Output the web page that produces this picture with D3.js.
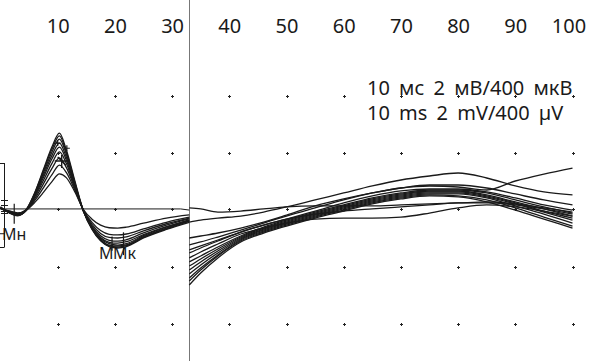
<!DOCTYPE html>
<html><head><meta charset="utf-8">
<script src="https://cdn.jsdelivr.net/npm/d3@7"></script>
<style>html,body{margin:0;padding:0;background:#fff;overflow:hidden}</style>
</head><body>
<svg id="c" width="591" height="361"></svg>
<script>
// ---- data ----
const tickLabels = [10,20,30,40,50,60,70,80,90,100];
const gridRowsMV = [4, 2, 0.0001, -2, -4, -6]; // dotted grid rows (in mV units of left scale, 2 mV / div)
const splitTime = 33; // ms: boundary between 2 mV and 400 µV sweeps
const legendLines = ["10 мс 2 мВ/400 мкВ", "10 ms 2 mV/400 µV"];

// left sweep (mV), sampled at these times (ms)
const timesL = [0, 1.5, 3, 4.5, 6, 7.5, 9, 10.3, 11.5, 13, 14.5, 16, 17.5, 19, 20.5, 22, 25, 29, 33];
const leftA1 = [0.05,-0.1,-0.2,0.0,0.6,1.4,2.2,2.68,2.1,1.0,-0.05,-0.7,-1.1,-1.3,-1.35,-1.3,-1.0,-0.7,-0.45];
const leftA2 = [0.05,-0.1,-0.18,0.0,0.58,1.35,2.12,2.58,2.02,0.95,-0.05,-0.68,-1.08,-1.28,-1.32,-1.27,-0.98,-0.68,-0.42];
const leftA3 = [0.04,-0.08,-0.18,-0.02,0.55,1.28,2.02,2.47,1.95,0.92,-0.06,-0.66,-1.05,-1.25,-1.28,-1.24,-0.95,-0.65,-0.4];
const leftA4 = [0.06,-0.1,-0.2,-0.02,0.52,1.2,1.9,2.33,1.84,0.86,-0.05,-0.64,-1.02,-1.2,-1.25,-1.2,-0.92,-0.62,-0.38];
const leftA5 = [0.08,-0.12,-0.22,-0.03,0.48,1.12,1.78,2.19,1.74,0.82,-0.06,-0.62,-0.98,-1.15,-1.18,-1.13,-0.88,-0.6,-0.36];
const leftA6 = [0.1,-0.1,-0.2,-0.04,0.44,1.02,1.62,2.02,1.62,0.78,-0.04,-0.58,-0.92,-1.08,-1.11,-1.06,-0.82,-0.55,-0.33];
const leftA7 = [0.06,-0.08,-0.16,-0.03,0.38,0.9,1.44,1.81,1.48,0.74,-0.03,-0.52,-0.84,-0.98,-1.0,-0.96,-0.75,-0.5,-0.3];
const leftA8 = [0.04,-0.06,-0.14,-0.02,0.32,0.76,1.22,1.56,1.3,0.68,-0.02,-0.45,-0.74,-0.87,-0.89,-0.86,-0.68,-0.45,-0.27];
const leftA9 = [0.02,-0.05,-0.12,-0.02,0.25,0.6,0.98,1.25,1.12,0.62,0.0,-0.34,-0.55,-0.64,-0.65,-0.62,-0.48,-0.3,-0.19];
const isoTimes = [0.8, 31.5, 33];
const isoValues = [0.02, 0.02, -0.02];

// right sweep (µV)
const timesR = [33, 35, 38, 42, 46, 50, 55, 60, 65, 70, 75, 80, 85, 90, 95, 100];
const rightR1  = [11,4,-18,-11,4,18,25,25,25,32,39,46,53,39,11,-18];
const rightR2  = [-88,-74,-60,-46,-18,18,67,116,165,207,235,256,221,165,123,102];
const rightB1  = [-200,-186,-165,-130,-88,-39,25,74,116,151,165,158,137,200,249,291];
const rightB2  = [-249,-228,-193,-144,-95,-46,11,67,116,151,172,172,151,109,67,32];
const rightB3  = [-305,-270,-221,-158,-109,-67,-11,46,95,130,144,144,123,81,32,-4];
const rightB4  = [-368,-326,-263,-186,-123,-74,-18,32,81,116,137,137,116,67,18,-25];
const rightB5  = [-397,-347,-277,-193,-130,-81,-25,25,74,109,130,130,102,53,4,-46];
const rightB6  = [-425,-368,-291,-200,-137,-88,-32,18,67,102,123,123,95,46,-11,-60];
const rightB7  = [-453,-390,-305,-207,-144,-95,-39,11,60,95,116,116,88,39,-18,-74];
const rightB8  = [-481,-411,-319,-214,-151,-102,-46,4,53,88,109,109,81,25,-32,-95];
const rightB9  = [-502,-425,-326,-221,-158,-109,-53,-4,46,81,102,95,67,11,-53,-116];
const rightB10 = [-530,-446,-340,-228,-165,-116,-60,-11,39,74,95,88,53,-4,-67,-130];
const rightL1  = [-284,-256,-214,-158,-109,-67,-32,-11,4,18,32,46,46,32,4,-32];
const rightL2  = [-340,-298,-242,-172,-130,-95,-67,-60,-60,-53,-25,11,32,18,-11,-46];

// markers (time ms, value mV)
const markerMn = {t: 2.4, v: 0, label: "Мн"};
const markerMk = [{t: 19.5, v: -1.05}, {t: 21.5, v: -1.1}];
const peakCross = {t: 10.7, v: 1.7};
const peakTicks = [{t: 10.0, v: 2.33}, {t: 11.6, v: 2.15}];

// ---- drawing ----
const svg = d3.select("#c");
const x = d3.scaleLinear().domain([0, 100]).range([0.5, 572.5]);
const yL = d3.scaleLinear().domain([0, 2]).range([209.5, 152.5]);   // 2 mV / div
const yR = d3.scaleLinear().domain([0, 400]).range([209.5, 152.5]); // 400 µV / div
const font = "'Noto Sans', 'Open Sans', sans-serif";
const ink = "#1a1a1a";

// top axis labels
const topAxis = d3.axisTop(x).tickValues(tickLabels).tickSize(0).tickFormat(d3.format("d"));
const ag = svg.append("g").attr("transform", "translate(0,36)").call(topAxis);
ag.select(".domain").remove();
ag.selectAll("text").attr("font-family", font).attr("font-size", 20).attr("fill", ink)
  .attr("dy", 0).attr("dx", d => d === 100 ? -4 : 0);

// dotted grid
const dots = [];
tickLabels.forEach(t => gridRowsMV.forEach(v => dots.push({t, v})));
svg.append("g").selectAll("path").data(dots).join("path")
  .attr("d", d => {
    const cx = Math.round(x(d.t)) + 0.5, cy = Math.round(yL(d.v)) + 0.5;
    return `M${cx-1.5},${cy}H${cx+1.5}M${cx},${cy-1.5}V${cy+1.5}`;
  })
  .attr("stroke", "#222").attr("stroke-width", 1);

// split line
svg.append("line").attr("x1", Math.round(x(splitTime)) + 0.5).attr("x2", Math.round(x(splitTime)) + 0.5)
  .attr("y1", 0).attr("y2", 361).attr("stroke", "#777").attr("stroke-width", 1);

// legend text
svg.append("g").selectAll("text").data(legendLines).join("text")
  .attr("x", 367).attr("y", (d, i) => 95 + i * 25)
  .attr("font-family", font).attr("font-size", 20).attr("fill", ink)
  .attr("word-spacing", 4)
  .text(d => d);

// left traces
const lineL = d3.line().x((d, i) => x(timesL[i])).y(d => yL(d)).curve(d3.curveMonotoneX);
const leftSeries = [leftA1, leftA2, leftA3, leftA4, leftA5, leftA6, leftA7, leftA8, leftA9];
svg.append("g").selectAll("path").data(leftSeries).join("path")
  .attr("d", lineL).attr("fill", "none").attr("stroke", ink).attr("stroke-width", 1.3);

// isoline
svg.append("path").datum(isoValues)
  .attr("d", d3.line().x((d, i) => x(isoTimes[i])).y(d => yL(d)))
  .attr("fill", "none").attr("stroke", ink).attr("stroke-width", 1);

// right traces
const lineR = d3.line().x((d, i) => x(timesR[i])).y(d => yR(d)).curve(d3.curveMonotoneX);
const rightSeries = [rightR1, rightR2, rightB1, rightB2, rightB3, rightB4, rightB5, rightB6, rightB7, rightB8, rightB9, rightB10, rightL1, rightL2];
svg.append("g").selectAll("path").data(rightSeries).join("path")
  .attr("d", lineR).attr("fill", "none").attr("stroke", ink).attr("stroke-width", 1.3);

// left calibration bar
const bx = 4.5;
const cal = svg.append("g").attr("stroke", ink).attr("stroke-width", 1).attr("fill", "none");
cal.append("line").attr("x1", bx).attr("x2", bx).attr("y1", yL(1.63)).attr("y2", yL(-1.32));
[1.63, -1.32].forEach(v => cal.append("line").attr("x1", 0).attr("x2", bx).attr("y1", Math.round(yL(v)) + 0.5).attr("y2", Math.round(yL(v)) + 0.5));
[0.33, 0.15, -0.05, -0.13].forEach(v => cal.append("line").attr("x1", 1).attr("x2", 8).attr("y1", Math.round(yL(v)) + 0.5).attr("y2", Math.round(yL(v)) + 0.5));
cal.append("line").attr("x1", 0).attr("x2", bx).attr("y1", yL(-0.85)).attr("y2", yL(-0.85));

// markers
const mk = svg.append("g").attr("stroke", ink).attr("stroke-width", 1.2).attr("fill", "none");
mk.append("line").attr("x1", x(markerMn.t)).attr("x2", x(markerMn.t)).attr("y1", yL(0.2)).attr("y2", yL(-0.5));
markerMk.forEach((m, i) => mk.append("line").attr("x1", x(m.t)).attr("x2", x(m.t))
  .attr("y1", yL(m.v + (i ? 0.3 : 0.1))).attr("y2", yL(m.v - (i ? 0.5 : 0.4))));
const pcx = x(peakCross.t), pcy = yL(peakCross.v);
mk.append("path").attr("d", `M${pcx-7},${pcy}H${pcx+7}M${pcx},${pcy-6}V${pcy+7}M${pcx-4},${pcy-4}L${pcx+4},${pcy+4}`).attr("stroke-width", 1.4);
peakTicks.forEach(p => mk.append("path").attr("d", `M${x(p.t)-3},${yL(p.v)}H${x(p.t)+3}M${x(p.t)},${yL(p.v)-3}V${yL(p.v)+3}`));

// labels
svg.append("text").attr("x", 2).attr("y", 240).attr("font-family", font).attr("font-size", 16).attr("fill", ink).text(markerMn.label);
svg.append("text").attr("x", 99).attr("y", 259).attr("font-family", font).attr("font-size", 16).attr("fill", ink).text("М");
svg.append("text").attr("x", 113).attr("y", 259).attr("font-family", font).attr("font-size", 16).attr("fill", ink).text("Мк");
</script>
</body></html>
